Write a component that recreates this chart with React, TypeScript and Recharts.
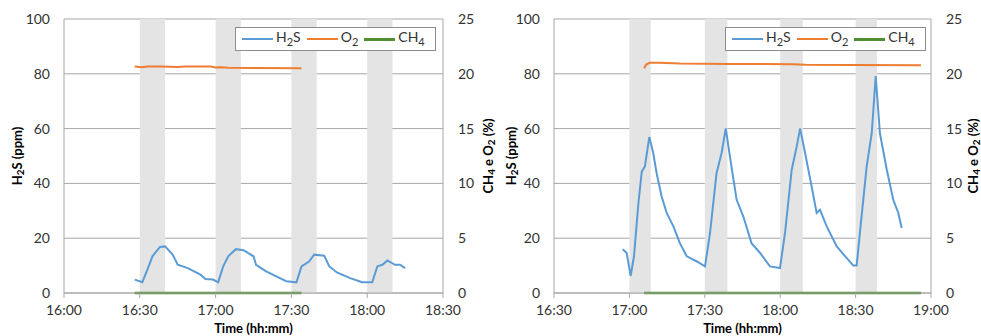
import React from 'react';
import { LineChart, Line, XAxis, YAxis, CartesianGrid, ReferenceArea, Legend } from 'recharts';

// times are hh:mm(:ss), values in ppm (H2S) or % (O2, CH4)
const leftH2S: [string, number][] = [
  ['16:28', 4.9], ['16:31', 3.9], ['16:33', 8.5], ['16:35', 13.4], ['16:38', 16.8], ['16:40', 17],
  ['16:43', 14], ['16:45', 10.3], ['16:47', 9.7], ['16:49', 9.1], ['16:54', 6.7], ['16:56', 5.1],
  ['16:59', 4.9], ['17:01', 3.9], ['17:03', 9.7], ['17:05', 13.4], ['17:08', 16], ['17:11', 15.6],
  ['17:15', 13.4], ['17:16', 10.3], ['17:20', 7.9], ['17:24', 6.1], ['17:28', 4.3], ['17:32', 3.9],
  ['17:34', 9.7], ['17:37', 11.5], ['17:39', 14], ['17:43', 13.6], ['17:45', 9.7], ['17:48', 7.5],
  ['17:53', 5.5], ['17:58', 3.9], ['18:02', 3.9], ['18:04', 9.7], ['18:06', 10.3], ['18:08', 11.9],
  ['18:11', 10.3], ['18:13', 10.3], ['18:15', 9.1],
];
const leftO2: [string, number][] = [
  ['16:28', 20.66], ['16:31', 20.6], ['16:33', 20.66], ['16:38', 20.66], ['16:45', 20.62],
  ['16:48', 20.66], ['16:58', 20.66], ['17:00', 20.57], ['17:02', 20.6], ['17:05', 20.55], ['17:34', 20.5],
];
const leftCH4: [string, number][] = [['16:28', 0], ['17:34', 0]];
const leftBands: [string, string][] = [['16:30', '16:40'], ['17:00', '17:10'], ['17:30', '17:40'], ['18:00', '18:10']];
const leftTicks = ['16:00', '16:30', '17:00', '17:30', '18:00', '18:30'];

const rightH2S: [string, number][] = [
  ['16:57:20', 16], ['16:58:55', 14.6], ['17:00:30', 6.3], ['17:01:50', 13.4], ['17:03:35', 32.8],
  ['17:04:55', 44.3], ['17:06:10', 46.2], ['17:07:55', 56.9], ['17:09:30', 51], ['17:10:50', 43.7],
  ['17:12:50', 35.2], ['17:14:50', 29.2], ['17:17:30', 24.3], ['17:20:05', 18.2], ['17:22:50', 13.4],
  ['17:26:50', 11.5], ['17:30:05', 9.7], ['17:32:05', 21.9], ['17:34:40', 43.7], ['17:36:40', 51],
  ['17:38:20', 60.1], ['17:40', 49.8], ['17:42:40', 34], ['17:45:20', 27.9], ['17:48:35', 18.2],
  ['17:52', 14.6], ['17:55:55', 9.7], ['17:59:55', 9.1], ['18:01:55', 21.9], ['18:04:35', 45],
  ['18:06:35', 53.5], ['18:07:55', 60.1], ['18:09:55', 51], ['18:12:30', 38.9], ['18:14:30', 29.2],
  ['18:15:50', 30.4], ['18:18:30', 24.3], ['18:22:30', 17], ['18:26:25', 12.8], ['18:29:05', 10],
  ['18:30:25', 10], ['18:31:50', 23.1], ['18:34:25', 46.2], ['18:36:25', 58.3], ['18:38', 79.2],
  ['18:39:40', 58.3], ['18:42:25', 45], ['18:45', 34], ['18:47', 29.2], ['18:48:20', 23.7],
];
const rightO2: [string, number][] = [
  ['17:05:50', 20.5], ['17:06:40', 20.85], ['17:08', 21.0], ['17:12', 21.0], ['17:20', 20.93],
  ['17:40', 20.9], ['18:05', 20.88], ['18:10', 20.82], ['18:30', 20.8], ['18:56', 20.78],
];
const rightCH4: [string, number][] = [['17:05:50', 0], ['18:56', 0]];
const rightBands: [string, string][] = [['17:00', '17:08:30'], ['17:30', '17:39'], ['18:00', '18:09'], ['18:30', '18:38:30']];
const rightTicks = ['16:30', '17:00', '17:30', '18:00', '18:30', '19:00'];

const ppmTicks = [0, 20, 40, 60, 80, 100];
const pctTicks = [0, 5, 10, 15, 20, 25];

const FONT = 'Lato, "Open Sans", sans-serif';
const GRID = '#a6a6a6';
const BLUE = '#5b9bd5';
const ORANGE = '#ed7d31';
const GREEN = '#4f8f32';

const toMin = (t: string) => {
  const [h, m, s] = t.split(':').map(Number);
  return h * 60 + m + (s || 0) / 60;
};
const fmt = (v: number) => {
  const h = Math.floor(v / 60);
  const m = Math.round(v - h * 60);
  return `${h}:${m < 10 ? '0' : ''}${m}`;
};
const pts = (arr: [string, number][]) => arr.map(([t, v]) => ({ t: toMin(t), v }));

const Sub = ({ children }: { children: React.ReactNode }) => (
  <span style={{ fontSize: 11, position: 'relative', top: 4 }}>{children}</span>
);

const LegendBox = () => {
  const items: { color: string; w: number; label: React.ReactNode }[] = [
    { color: BLUE, w: 2, label: <>H<Sub>2</Sub>S</> },
    { color: ORANGE, w: 2, label: <>O<Sub>2</Sub></> },
    { color: GREEN, w: 3, label: <>CH<Sub>4</Sub></> },
  ];
  return (
    <div style={{ boxSizing: 'border-box', width: 201, height: 24, border: '1px solid #8c8c8c', background: '#fff', display: 'flex', alignItems: 'center', paddingLeft: 6, fontFamily: FONT, fontSize: 14, color: '#333', lineHeight: '14px' }}>
      {items.map((it, i) => (
        <div key={i} style={{ display: 'flex', alignItems: 'center', marginRight: 6 }}>
          <div style={{ width: 31, height: it.w, background: it.color, marginRight: 3 }} />
          <span style={{ position: 'relative', top: -2 }}>{it.label}</span>
        </div>
      ))}
    </div>
  );
};

const VTitle = ({ x, y, main, sub, rest }: { x: number; y: number; main: string; sub: string; rest: string }) => (
  <text x={x} y={y} transform={`rotate(-90, ${x}, ${y})`} textAnchor="middle" dominantBaseline="central" fontFamily={FONT} fontWeight="bold" fontSize={13} fill="#000">
    <tspan>{main}</tspan>
    <tspan dy={3} fontSize={10}>{sub}</tspan>
    <tspan dy={-3}>{rest}</tspan>
  </text>
);

const Pct = ({ x, y }: { x: number; y: number }) => (
  <text x={x} y={y} transform={`rotate(-90, ${x}, ${y})`} textAnchor="middle" dominantBaseline="central" fontFamily={FONT} fontWeight="bold" fontSize={13} fill="#000">
    <tspan>CH</tspan>
    <tspan dy={3} fontSize={10}>4</tspan>
    <tspan dy={-3}> e O</tspan>
    <tspan dy={3} fontSize={10}>2</tspan>
    <tspan dy={-3}> (%)</tspan>
  </text>
);

type Props = {
  h2s: [string, number][];
  o2: [string, number][];
  ch4: [string, number][];
  bands: [string, string][];
  ticks: string[];
  width: number;
  rightW: number;
  leftTitleX: number;
  rightTitleX: number;
  legendLeft: number;
};

const Panel = ({ h2s, o2, ch4, bands, ticks, width, rightW, leftTitleX, rightTitleX, legendLeft }: Props) => {
  const xt = ticks.map(toMin);
  const tick = { fontFamily: FONT, fontSize: 14, fill: '#333' };
  return (
    <LineChart width={width} height={336} margin={{ top: 19, right: 0, bottom: 0, left: 0 }}>
      {bands.map(([a, b], i) => (
        <ReferenceArea key={i} yAxisId="ppm" x1={toMin(a)} x2={toMin(b)} y1={0} y2={100} fill="#e4e4e4" fillOpacity={1} stroke="none" />
      ))}
      <CartesianGrid yAxisId="ppm" vertical={false} stroke={GRID} strokeWidth={1} />
      <XAxis
        type="number"
        dataKey="t"
        domain={[xt[0], xt[xt.length - 1]]}
        ticks={xt}
        tickFormatter={fmt}
        height={43}
        tick={tick}
        stroke={GRID}
        tickSize={5}
        tickMargin={7}
        allowDataOverflow
        label={{
          content: (p: any) => (
            <text x={p.viewBox.x + p.viewBox.width / 2} y={333} textAnchor="middle" fontFamily={FONT} fontWeight="bold" fontSize={13} fill="#000">
              Time (hh:mm)
            </text>
          ),
        }}
      />
      <YAxis
        yAxisId="ppm"
        orientation="left"
        width={64}
        domain={[0, 100]}
        ticks={ppmTicks}
        tick={tick}
        stroke={GRID}
        tickLine={false}
        tickSize={6}
        tickMargin={8}
        label={{ content: () => <VTitle x={leftTitleX} y={156} main="H" sub="2" rest="S (ppm)" /> }}
      />
      <YAxis
        yAxisId="pct"
        orientation="right"
        width={rightW}
        domain={[0, 25]}
        ticks={pctTicks}
        tick={{ ...tick, textAnchor: 'start' }}
        stroke={GRID}
        tickLine={false}
        tickSize={6}
        tickMargin={9}
        label={{ content: () => <Pct x={rightTitleX} y={156} /> }}
      />
      <Legend
        layout="horizontal"
        verticalAlign="middle"
        align="center"
        content={() => <LegendBox />}
        wrapperStyle={{ top: 27, left: legendLeft, width: 201, height: 24 }}
      />
      <Line yAxisId="pct" data={pts(ch4)} dataKey="v" stroke={GREEN} strokeWidth={2.5} dot={false} isAnimationActive={false} />
      <Line yAxisId="pct" data={pts(o2)} dataKey="v" stroke={ORANGE} strokeWidth={2} dot={false} isAnimationActive={false} />
      <Line yAxisId="ppm" data={pts(h2s)} dataKey="v" stroke={BLUE} strokeWidth={2} dot={false} isAnimationActive={false} />
    </LineChart>
  );
};

export default function App() {
  return (
    <div style={{ position: 'absolute', left: 0, top: 0, width: 981, height: 336, background: '#fff', overflow: 'hidden' }}>
      <div style={{ position: 'absolute', left: 0, top: 0 }}>
        <Panel h2s={leftH2S} o2={leftO2} ch4={leftCH4} bands={leftBands} ticks={leftTicks} width={500} rightW={57} leftTitleX={17} rightTitleX={488} legendLeft={235} />
      </div>
      <div style={{ position: 'absolute', left: 490, top: 0 }}>
        <Panel h2s={rightH2S} o2={rightO2} ch4={rightCH4} bands={rightBands} ticks={rightTicks} width={491} rightW={50} leftTitleX={21} rightTitleX={483} legendLeft={235} />
      </div>
    </div>
  );
}
